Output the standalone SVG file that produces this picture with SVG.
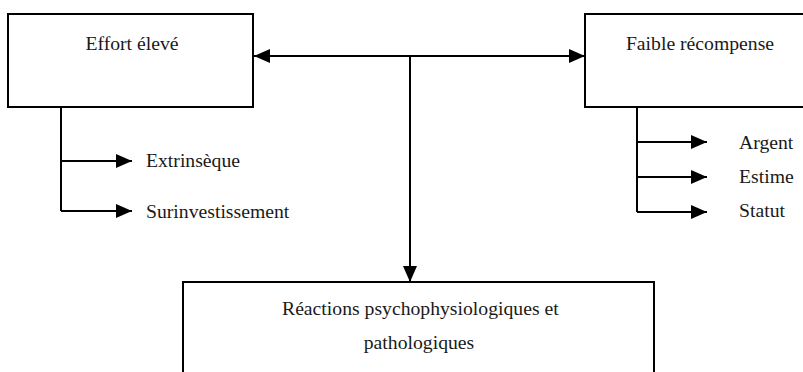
<svg xmlns="http://www.w3.org/2000/svg" width="803" height="372" viewBox="0 0 803 372">
<defs>
<style>
.box{fill:#fff;stroke:#000;stroke-width:2}
.ln{fill:none;stroke:#000;stroke-width:2}
text{font-family:'Liberation Serif','Times New Roman',serif;font-size:19.7px;fill:#1a1a1a}
</style>
<marker id="ah" markerWidth="16" markerHeight="16" refX="16" refY="8" orient="auto" markerUnits="userSpaceOnUse">
<path d="M0,1 L16,8 L0,15 Z" fill="#000"/>
</marker>
</defs>
<rect width="803" height="372" fill="#fff"/>
<g id="connectors">
<path class="ln" d="M410,56 L254,56" marker-end="url(#ah)"/>
<path class="ln" d="M410,56 L585,56" marker-end="url(#ah)"/>
<path class="ln" d="M410,56 L410,282" marker-end="url(#ah)"/>
<path class="ln" d="M61,107 L61,211"/>
<path class="ln" d="M61,161 L132,161" marker-end="url(#ah)"/>
<path class="ln" d="M61,211 L132,211" marker-end="url(#ah)"/>
<path class="ln" d="M637,107 L637,212"/>
<path class="ln" d="M637,142 L707,142" marker-end="url(#ah)"/>
<path class="ln" d="M637,177 L707,177" marker-end="url(#ah)"/>
<path class="ln" d="M637,212 L707,212" marker-end="url(#ah)"/>
</g>
<g id="effort">
<rect class="box" x="8" y="14" width="245" height="93"/>
<text x="132" y="50" text-anchor="middle">Effort élevé</text>
</g>
<g id="recompense">
<rect class="box" x="585" y="14" width="230" height="93"/>
<text x="700" y="50" text-anchor="middle">Faible récompense</text>
</g>
<g id="extrinseque"><text x="146" y="167">Extrinsèque</text></g>
<g id="surinvestissement"><text x="146" y="218">Surinvestissement</text></g>
<g id="argent"><text x="739" y="149">Argent</text></g>
<g id="estime"><text x="739" y="183">Estime</text></g>
<g id="statut"><text x="739" y="217">Statut</text></g>
<g id="reactions">
<rect class="box" x="183" y="282" width="471" height="100"/>
<text x="282" y="315">Réactions psychophysiologiques et</text>
<text x="419" y="349" text-anchor="middle">pathologiques</text>
</g>
</svg>
